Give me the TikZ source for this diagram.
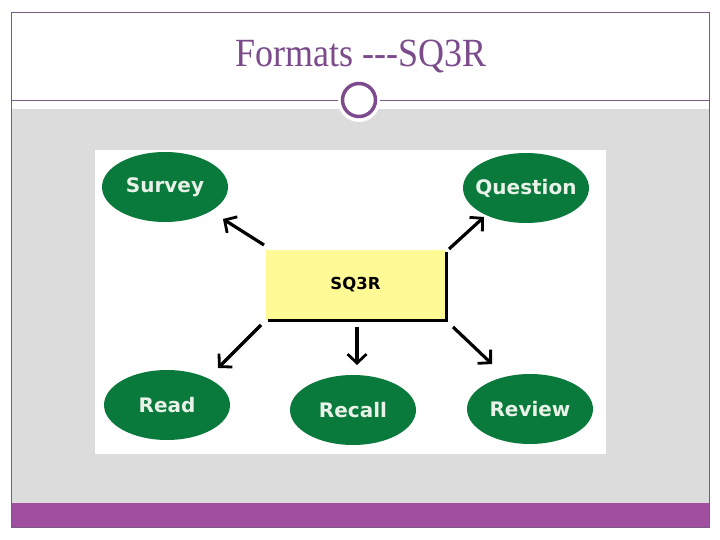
\documentclass[tikz,border=0pt]{standalone}
\usepackage{fontspec}
\setmainfont[Ligatures=NoCommon]{Liberation Serif}
\newfontfamily\labfont{DejaVu Sans}
\usetikzlibrary{arrows.meta,shapes.geometric}
\definecolor{framec}{HTML}{7A5A85}
\definecolor{titlec}{HTML}{7B4B8C}
\definecolor{ringc}{HTML}{7E4A8E}
\definecolor{bandc}{HTML}{A04FA0}
\definecolor{grayc}{HTML}{DCDCDC}
\definecolor{greenc}{HTML}{0A7A3C}
\definecolor{yellowc}{HTML}{FFFA96}
\definecolor{labc}{HTML}{E8F2E8}
\newcommand{\ovaltext}[1]{\makebox[0pt]{#1}}
\begin{document}
\begin{tikzpicture}[x=1pt,y=-1pt,
  oval/.style={ellipse, fill=greenc, minimum width=126pt, minimum height=70pt, inner sep=0pt,
    text=labc, font=\labfont\bfseries\fontsize{20}{20}\selectfont},
  boxst/.style={rectangle, fill=yellowc, minimum width=179pt, minimum height=70pt, inner sep=0pt,
    font=\labfont\bfseries\fontsize{16.5}{16.5}\selectfont},
  arr/.style={line width=3.2pt, -{Straight Barb[length=9pt,width=19pt,line width=2.8pt]}},
  framel/.style={draw=framec, line width=0.9pt}]
\useasboundingbox (0,0) rectangle (720,540);
\fill[white] (0,0) rectangle (720,540);
% slide background
\fill[grayc] (11,109) rectangle (709,503);
\fill[bandc] (11,503) rectangle (709,527);
\draw[framel] (11,12) rectangle (709,527);
\draw[framel] (11,100) -- (709,100);
% title
\node[text=titlec, font=\fontsize{40}{40}\selectfont, xscale=0.9] (title) at (361,57) {Formats -{}-{}-SQ3R};
% ring
\fill[white] (359,101) circle (21);
\node[circle, draw=ringc, line width=3.5pt, fill=white, minimum size=33pt, inner sep=0pt] (ring) at (359,100) {};
% picture panel
\fill[white] (95,150) rectangle (606,454);
% nodes
\node[oval] (survey) at (165,187) {\ovaltext{Survey}};
\node[oval] (question) at (526,188) {\ovaltext{Question}};
\node[oval] (read) at (167,405) {\ovaltext{Read}};
\node[oval] (recall) at (353,410) {\ovaltext{Recall}};
\node[oval] (review) at (530,409) {\ovaltext{Review}};
\node[boxst] (box) at (355.5,285) {SQ3R};
\draw[line width=3pt] ([xshift=2pt]box.south west) -- ([xshift=1.5pt]box.south east) -- ([xshift=1.5pt,yshift=-2pt]box.north east);
% arrow ends
\coordinate (s1) at (264,245); \coordinate (s2) at (223,219);
\coordinate (q1) at (449,249); \coordinate (q2) at (484,217);
\coordinate (r1) at (261,325); \coordinate (r2) at (218,368);
\coordinate (c1) at (357,327); \coordinate (c2) at (357,365);
\coordinate (v1) at (453,327); \coordinate (v2) at (492,364);
\draw[arr] (s1) -- (s2);
\draw[arr] (q1) -- (q2);
\draw[arr] (r1) -- (r2);
\draw[arr] (c1) -- (c2);
\draw[arr] (v1) -- (v2);
\end{tikzpicture}
\end{document}
